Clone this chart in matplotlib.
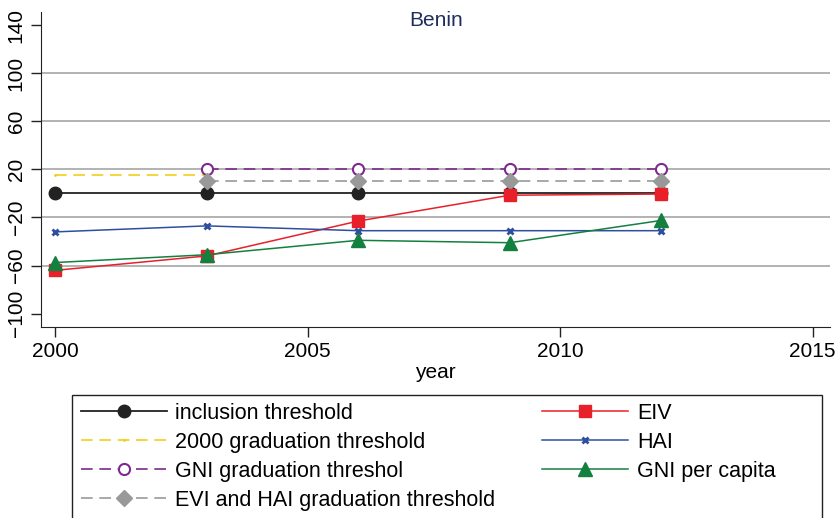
import matplotlib
matplotlib.use("Agg")
import matplotlib.pyplot as plt
from matplotlib.patches import Rectangle

plt.rcParams["font.family"] = ["Liberation Sans", "DejaVu Sans"]

years = [2000, 2003, 2006, 2009, 2012]
inclusion = [0.6, 0.6, 0.6, 0.6, 0.6]
grad2000_years = [2000, 2003]
grad2000 = [15, 15]
later_years = [2003, 2006, 2009, 2012]
gni_grad = [20.5, 20.5, 20.5, 20.5]
evi_hai_grad = [10, 10, 10, 10]
eiv = [-64, -52, -23, -1.5, -0.5]
hai = [-32, -27, -31, -31, -31]
gni_pc = [-57.5, -51, -39, -41, -22.5]

fig = plt.figure(figsize=(8.37, 5.18), dpi=100)
ax = fig.add_axes([0.049, 0.369, 0.943, 0.608])

# horizontal grid, only the inner ticks
for g in [100, 60, 20, -20, -60]:
    ax.axhline(g, color="#a6a6a6", lw=1.2, zorder=0)

ax.plot(years, inclusion, color="#222222", lw=1.3, marker="o", ms=9,
        label="inclusion threshold")
ax.plot(grad2000_years, grad2000, color="#f2cd1c", lw=1.2, ls=(0, (7, 4)),
        marker=".", ms=2, label="2000 graduation threshold")
ax.plot(later_years, gni_grad, color="#7d2a8c", lw=1.2, ls=(0, (7, 4)),
        marker="o", ms=8, mfc="white", mew=1.5, label="GNI graduation threshol")
ax.plot(later_years, evi_hai_grad, color="#999999", lw=1.2, ls=(0, (7, 4)),
        marker="D", ms=8, label="EVI and HAI graduation threshold")
ax.plot(years, eiv, color="#e8202a", lw=1.1, marker="s", ms=9, label="EIV")
ax.plot(years, hai, color="#2d4f9e", lw=1.1, marker="x", ms=5, mew=2, label="HAI")
ax.plot(years, gni_pc, color="#138040", lw=1.1, marker="^", ms=10,
        label="GNI per capita")

ax.set_xlim(1999.72, 2015.35)
ax.set_ylim(-111, 151)
ax.set_xticks([2000, 2005, 2010, 2015])
ax.set_yticks([-100, -60, -20, 20, 60, 100, 140])
ax.set_yticklabels(["\u2212100", "\u221260", "\u221220", "20", "60", "100", "140"],
                   rotation=90, va="center")
ax.tick_params(labelsize=15, length=7, width=1, color="#222222", pad=4)
for s in ["top", "right"]:
    ax.spines[s].set_visible(False)
for s in ["left", "bottom"]:
    ax.spines[s].set_color("#222222")
ax.set_xlabel("year", fontsize=15, labelpad=1)
ax.set_title("Benin", fontsize=15, color="#1f2d5c", pad=-10, y=1.0)

# legend box drawn by hand so it can run off the bottom like the original
fig.patches.append(Rectangle((72 / 837, -0.05), 750 / 837, 0.05 + 123 / 518,
                             transform=fig.transFigure, fill=False,
                             edgecolor="#222222", lw=1))
leg = fig.legend(ncol=2, loc="upper left", bbox_to_anchor=(0.0963, 0.222),
                 fontsize=15.5, frameon=False, handlelength=4.0,
                 columnspacing=2.17, labelspacing=0.37, borderaxespad=0,
                 handletextpad=0.4, borderpad=0)

fig.savefig("out.png", dpi=100)
